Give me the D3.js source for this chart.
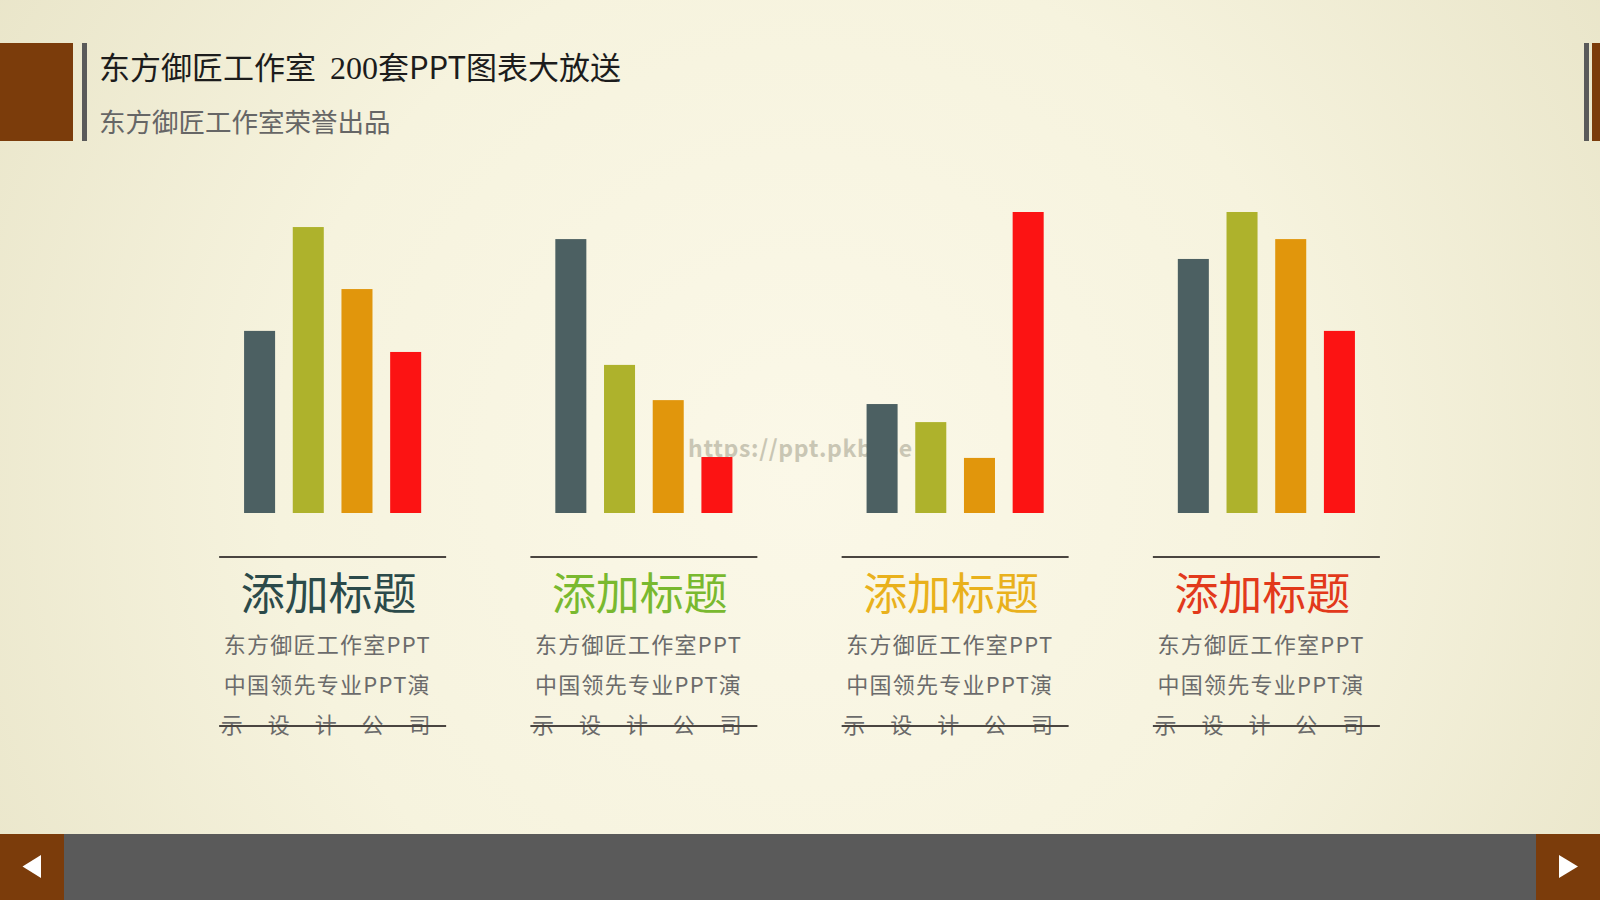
<!DOCTYPE html>
<html><head><meta charset="utf-8">
<script src="https://cdn.jsdelivr.net/npm/d3@7"></script>
<style>
html,body{margin:0;padding:0;background:#f5f2dc;}
svg{display:block;}
text{font-family:"Noto Sans CJK SC","Noto Sans",sans-serif;}
</style></head>
<body>
<svg id="c" width="1600" height="900"></svg>
<script>
// ---- data ----
const categories = ["添加标题", "添加标题", "添加标题", "添加标题"];
const seriesNames = ["系列1", "系列2", "系列3", "系列4"];
const series1 = [60.5, 91, 36.2, 84.4];
const series2 = [95, 49.2, 30.2, 100];
const series3 = [74.4, 37.5, 18.3, 91];
const series4 = [53.5, 18.6, 100, 60.5];
const descLines = ["东方御匠工作室PPT", "中国领先专业PPT演", "示　设　计　公　司"];
const titleText = "东方御匠工作室";
const titleRest = ["200", "套PPT图表大放送"];
const subtitleText = "东方御匠工作室荣誉出品";
const watermark = "https://ppt.pkbase";

const seriesColors = ["#4c6062", "#aeb22c", "#e1960c", "#fc1313"];
const headColors = ["#2b4a4a", "#79b92f", "#e9b11c", "#e2391b"];
const brown = "#7b3c0b";
const darkGray = "#5a5a5a";

const svg = d3.select("#c");
const defs = svg.append("defs");
const rg = defs.append("radialGradient").attr("id","bg")
  .attr("gradientUnits","userSpaceOnUse").attr("cx",800).attr("cy",470).attr("r",950);
rg.append("stop").attr("offset","0").attr("stop-color","#fbf8e8");
rg.append("stop").attr("offset","0.55").attr("stop-color","#f6f3de");
rg.append("stop").attr("offset","1").attr("stop-color","#e9e5c9");
svg.append("rect").attr("width",1600).attr("height",900).attr("fill","url(#bg)");

// ---- header ----
svg.append("rect").attr("x",0).attr("y",43).attr("width",73).attr("height",98).attr("fill",brown);
svg.append("rect").attr("x",82).attr("y",43).attr("width",5).attr("height",98).attr("fill",darkGray);
svg.append("rect").attr("x",1584).attr("y",43).attr("width",5).attr("height",98).attr("fill",darkGray);
svg.append("rect").attr("x",1592).attr("y",43).attr("width",8).attr("height",98).attr("fill",brown);

const t = svg.append("text").attr("x",99).attr("y",79).attr("font-size",31).attr("fill","#1c1c1c");
t.append("tspan").text(titleText);
t.append("tspan").attr("dx",14).attr("font-family","'Liberation Serif',serif").attr("font-size",32).text(titleRest[0]);
t.append("tspan").text(titleRest[1]);

svg.append("text").attr("x",99).attr("y",132).attr("font-size",26.5).attr("fill","#666").text(subtitleText);

// ---- footer ----
svg.append("rect").attr("x",0).attr("y",834).attr("width",1600).attr("height",66).attr("fill",darkGray);
svg.append("rect").attr("x",0).attr("y",834).attr("width",64).attr("height",66).attr("fill",brown);
svg.append("rect").attr("x",1536).attr("y",834).attr("width",64).attr("height",66).attr("fill",brown);
svg.append("path").attr("d","M22.5,866.5L41,855L41,878Z").attr("fill","#fff");
svg.append("path").attr("d","M1578,866.5L1559,855L1559,878Z").attr("fill","#fff");

// ---- watermark (behind bars) ----
svg.append("text").attr("x",688).attr("y",457).attr("font-family","'DejaVu Sans Mono',monospace")
  .attr("font-weight","bold").attr("font-size",23).attr("fill","#c9c6b4")
  .attr("textLength",224).attr("lengthAdjust","spacing").text(watermark);

// ---- scales ----
const x0 = d3.scaleBand().domain(d3.range(categories.length)).range([177, 1422]).padding(0);
const x1 = d3.scaleBand().domain(seriesNames).range([-88.55, 88.55]).paddingInner(0.363).paddingOuter(0);
const y = d3.scaleLinear().domain([0, 100]).range([513, 212]);

const allSeries = [series1, series2, series3, series4];
const rows = categories.map((c, i) => ({
  i, cat: c, vals: seriesNames.map((s, j) => ({ s, j, v: allSeries[j][i] }))
}));

const g = svg.selectAll("g.grp").data(rows).enter().append("g").attr("class","grp")
  .attr("transform", d => `translate(${x0(d.i) + x0.bandwidth()/2},0)`);

g.selectAll("rect.bar").data(d => d.vals).enter().append("rect").attr("class","bar")
  .attr("x", d => x1(d.s)).attr("width", x1.bandwidth())
  .attr("y", d => y(d.v)).attr("height", d => y(0) - y(d.v))
  .attr("fill", d => seriesColors[d.j]);

// top rule
g.append("line").attr("x1",-113.5).attr("x2",113.5).attr("y1",557).attr("y2",557)
  .attr("stroke","#4a4540").attr("stroke-width",2);

g.append("text").attr("x",-4).attr("y",610).attr("text-anchor","middle").attr("font-size",44)
  .attr("fill", d => headColors[d.i]).text(d => d.cat);

const ys = [652.5, 693, 732.5];
descLines.forEach((line, k) => {
  g.append("text").attr("x", k === 2 ? -112 : -109).attr("y", ys[k]).attr("font-size",22)
    .attr("fill","#6b6b6b")
    .attr("textLength", k === 2 ? 210 : 206).attr("lengthAdjust","spacing")
    .text(line);
});

// strike line
g.append("line").attr("x1",-113.5).attr("x2",113.5).attr("y1",726).attr("y2",726)
  .attr("stroke","#4a4540").attr("stroke-width",2);
</script>
</body></html>
